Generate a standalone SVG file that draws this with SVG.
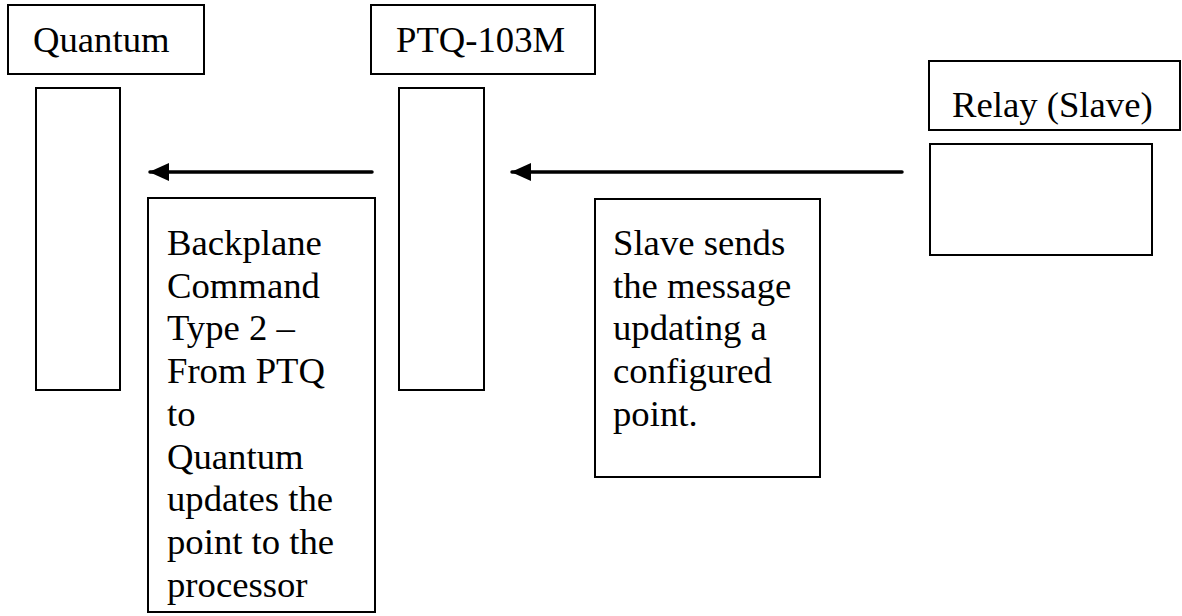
<svg xmlns="http://www.w3.org/2000/svg" width="1182" height="616" viewBox="0 0 1182 616">
<style>
.box{fill:#fff;stroke:#000;stroke-width:2}
text{font-family:"Liberation Serif","Times New Roman",Times,serif;font-size:36.7px;fill:#000}
.conn{stroke:#000;stroke-width:3.5;stroke-linecap:round;fill:none}
</style>
<defs>
<marker id="ah" viewBox="0 0 20 18" refX="19" refY="9" markerWidth="20" markerHeight="18" markerUnits="userSpaceOnUse" orient="auto">
<path d="M0,0 L20,9 L0,18 Z" fill="#000"/>
</marker>
</defs>
<rect x="0" y="0" width="1182" height="616" fill="#fff"/>
<g id="quantum">
<rect class="box" x="8" y="5" width="196" height="69"/>
<text x="33" y="52">Quantum</text>
</g>
<g id="quantum-bar"><rect class="box" x="36" y="88" width="84" height="302"/></g>
<g id="ptq">
<rect class="box" x="371" y="5" width="224" height="69"/>
<text x="396" y="52">PTQ-103M</text>
</g>
<g id="ptq-bar"><rect class="box" x="399" y="88" width="85" height="302"/></g>
<g id="relay">
<rect class="box" x="929" y="61" width="251" height="69"/>
<text x="952" y="117">Relay (Slave)</text>
</g>
<g id="relay-bar"><rect class="box" x="930" y="144" width="222" height="111"/></g>
<g id="note-backplane">
<rect class="box" x="148" y="198" width="227" height="414"/>
<text x="167"><tspan x="167" y="255">Backplane</tspan><tspan x="167" y="298">Command</tspan><tspan x="167" y="340">Type 2 –</tspan><tspan x="167" y="383">From PTQ</tspan><tspan x="167" y="426">to</tspan><tspan x="167" y="469">Quantum</tspan><tspan x="167" y="511">updates the</tspan><tspan x="167" y="554">point to the</tspan><tspan x="167" y="597">processor</tspan></text>
</g>
<g id="note-slave">
<rect class="box" x="595" y="199" width="225" height="278"/>
<text x="613"><tspan x="613" y="255">Slave sends</tspan><tspan x="613" y="298">the message</tspan><tspan x="613" y="340">updating a</tspan><tspan x="613" y="383">configured</tspan><tspan x="613" y="426">point.</tspan></text>
</g>
<g id="connectors">
<line class="conn" x1="372" y1="172" x2="150" y2="172" marker-end="url(#ah)"/>
<line class="conn" x1="902" y1="172" x2="512" y2="172" marker-end="url(#ah)"/>
</g>
</svg>
